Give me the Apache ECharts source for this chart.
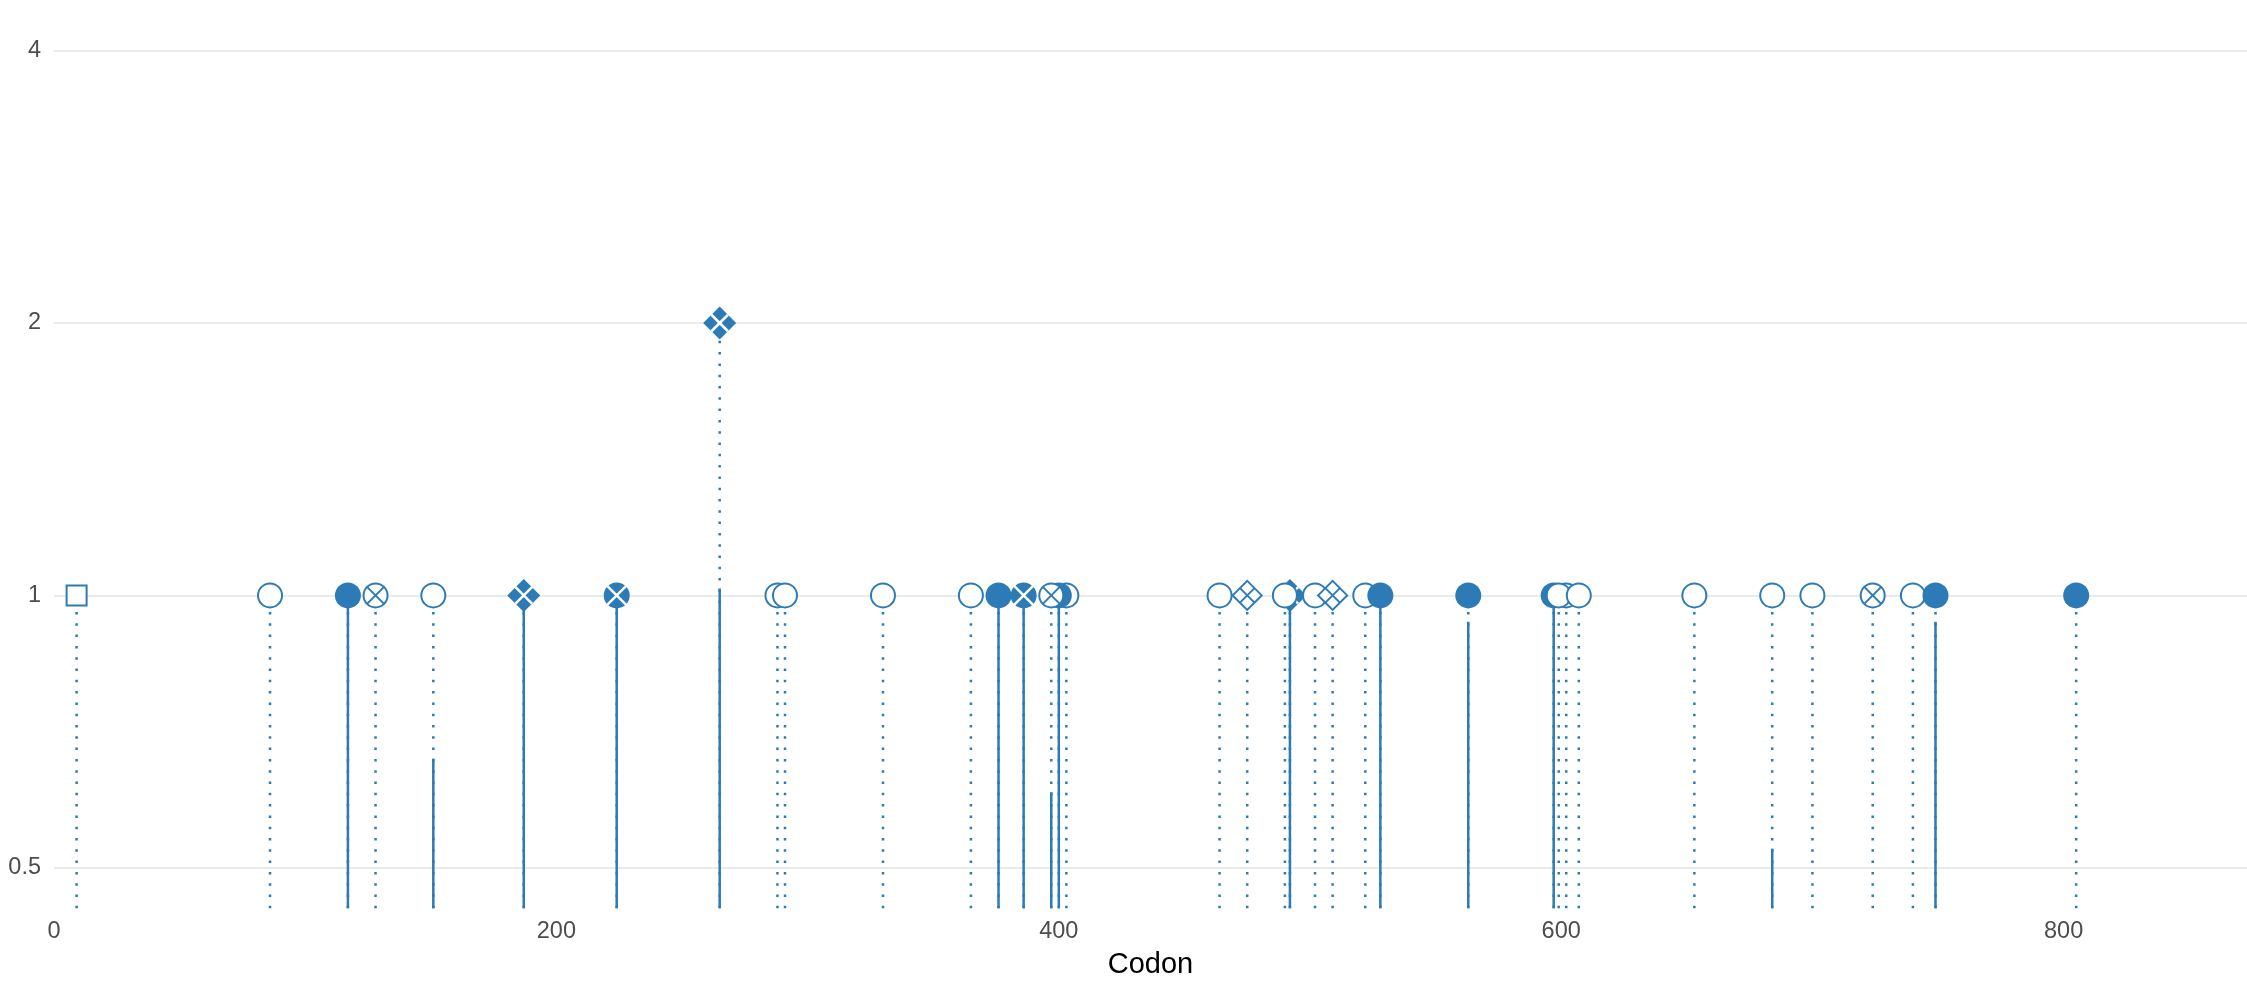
<!DOCTYPE html>
<html>
<head>
<meta charset="utf-8">
<script src="https://cdn.jsdelivr.net/npm/echarts@6/dist/echarts.min.js"></script>
<style>
html,body{margin:0;padding:0;background:#fff;}
#chart{width:2247px;height:986px;}
</style>
</head>
<body>
<div id="chart"></div>
<script>
// ---- data (draw order = array order) ----
const codons    = [9, 86, 117, 128, 151, 187, 224, 265, 288, 291, 330, 365, 376, 386, 403, 400, 397, 464, 475, 492, 490, 502, 509, 522, 528, 563, 597, 602, 599, 607, 653, 684, 700, 724, 740, 749, 805];
const values    = [1, 1, 1, 1, 1, 1, 1, 2, 1, 1, 1, 1, 1, 1, 1, 1, 1, 1, 1, 1, 1, 1, 1, 1, 1, 1, 1, 1, 1, 1, 1, 1, 1, 1, 1, 1, 1];
const solidTops = [null, null, 1, null, 0.66, 1, 1, 1.018, null, null, null, null, 1, 1, null, 1, 0.606, null, null, 1, null, null, null, null, 1, 0.935, 1, null, null, null, null, 0.525, null, null, null, 0.935, null];
const shapes    = ['sq', 'oc', 'fc', 'ocx', 'oc', 'fdp', 'fcx', 'fdp', 'oc', 'oc', 'oc', 'oc', 'fc', 'fcx', 'oc', 'fc', 'ocx', 'oc', 'odp', 'fdp', 'oc', 'oc', 'odp', 'oc', 'fc', 'fc', 'fc', 'oc', 'oc', 'oc', 'oc', 'oc', 'oc', 'ocx', 'oc', 'fc', 'fc'];
const xTicks    = [0, 200, 400, 600, 800];
const yTicks    = [0.5, 1, 2, 4];
const xTitle    = 'Codon';

const X_MIN = 0, X_MAX = 873;
const Y_MIN = 0.451, Y_MAX = 4.55;
const BLUE = '#2C7BB6';
const FONT = '"Liberation Sans", Arial, Helvetica, sans-serif';

const stemData = codons.map((c, i) => [c, values[i]]);
const solidData = [];
codons.forEach((c, i) => { if (solidTops[i] != null) solidData.push([c, solidTops[i]]); });
const markerData = codons.map((c, i) => [c, values[i], i]);

function stemRender(dash, width) {
  return function (params, api) {
    const x = api.value(0), y = api.value(1);
    const p0 = api.coord([x, Y_MIN]);
    const p1 = api.coord([x, y]);
    return {
      type: 'line',
      shape: { x1: p0[0], y1: p0[1], x2: p1[0], y2: p1[1] },
      style: { stroke: BLUE, lineWidth: width, lineDash: dash, lineCap: 'butt', fill: null }
    };
  };
}

function markerRender(params, api) {
  const x = api.value(0), y = api.value(1), idx = api.value(2);
  const p = api.coord([x, y]);
  const cx = p[0], cy = p[1];
  const kind = shapes[idx];
  const children = [];
  const line = (x1, y1, x2, y2, color, w) => ({
    type: 'line', shape: { x1, y1, x2, y2 }, style: { stroke: color, lineWidth: w, fill: null }
  });
  if (kind === 'oc' || kind === 'ocx') {
    children.push({ type: 'circle', shape: { cx, cy, r: 12 }, style: { fill: '#fff', stroke: BLUE, lineWidth: 2 } });
    if (kind === 'ocx') {
      const d = 8.5;
      children.push(line(cx - d, cy - d, cx + d, cy + d, BLUE, 2));
      children.push(line(cx - d, cy + d, cx + d, cy - d, BLUE, 2));
    }
  } else if (kind === 'fc' || kind === 'fcx') {
    children.push({ type: 'circle', shape: { cx, cy, r: 13 }, style: { fill: BLUE } });
    if (kind === 'fcx') {
      const d = 9.5;
      children.push(line(cx - d, cy - d, cx + d, cy + d, '#fff', 2.5));
      children.push(line(cx - d, cy + d, cx + d, cy - d, '#fff', 2.5));
    }
  } else if (kind === 'sq') {
    children.push({ type: 'rect', shape: { x: cx - 10, y: cy - 10, width: 20, height: 20 }, style: { fill: '#fff', stroke: BLUE, lineWidth: 2 } });
  } else if (kind === 'fdp' || kind === 'odp') {
    const h = kind === 'fdp' ? 16.5 : 14.5;
    const filled = kind === 'fdp';
    children.push({
      type: 'polygon',
      shape: { points: [[cx, cy - h], [cx + h, cy], [cx, cy + h], [cx - h, cy]] },
      style: filled ? { fill: BLUE } : { fill: '#fff', stroke: BLUE, lineWidth: 2 }
    });
    const m = h / 2;
    const col = filled ? '#fff' : BLUE;
    const w = filled ? 2.5 : 2;
    children.push(line(cx + m, cy - m, cx - m, cy + m, col, w));
    children.push(line(cx - m, cy - m, cx + m, cy + m, col, w));
  }
  return { type: 'group', children };
}

const chart = echarts.init(document.getElementById('chart'), null, { renderer: 'canvas' });
chart.setOption({
  backgroundColor: '#fff',
  animation: false,
  grid: { left: 54, right: 0, top: 0, bottom: 77.7, containLabel: false, outerBoundsMode: 'none' },
  xAxis: {
    type: 'value',
    min: X_MIN, max: X_MAX, interval: 200,
    name: xTitle, nameLocation: 'middle', nameGap: 42,
    nameTextStyle: { color: '#000', fontSize: 29, fontFamily: FONT },
    axisLine: { show: false }, axisTick: { show: false },
    splitLine: { show: false },
    axisLabel: {
      color: '#4D4D4D', fontSize: 23.5, fontFamily: FONT, margin: 11,
      showMaxLabel: false,
      formatter: v => (xTicks.indexOf(v) >= 0 ? String(v) : '')
    }
  },
  yAxis: {
    type: 'log', logBase: 2,
    min: Y_MIN, max: Y_MAX,
    axisLine: { show: false }, axisTick: { show: false },
    splitLine: { show: true, showMinLine: false, showMaxLine: false, lineStyle: { color: '#EBEBEB', width: 2 } },
    axisLabel: {
      color: '#4D4D4D', fontSize: 23.5, fontFamily: FONT, margin: 13,
      showMinLabel: false, showMaxLabel: false,
      formatter: v => {
        const r = yTicks.find(t => Math.abs(t - v) < 1e-6);
        return r === undefined ? '' : String(r);
      }
    }
  },
  series: [
    { type: 'custom', name: 'dotted', clip: false, encode: { x: 0, y: 1 }, data: stemData, renderItem: stemRender([2.5, 8.8], 2.5), z: 1 },
    { type: 'custom', name: 'solid', clip: false, encode: { x: 0, y: 1 }, data: solidData, renderItem: stemRender(null, 2.5), z: 2 },
    { type: 'custom', name: 'markers', clip: false, encode: { x: 0, y: 1 }, data: markerData, renderItem: markerRender, z: 3 }
  ]
});
</script>
</body>
</html>
